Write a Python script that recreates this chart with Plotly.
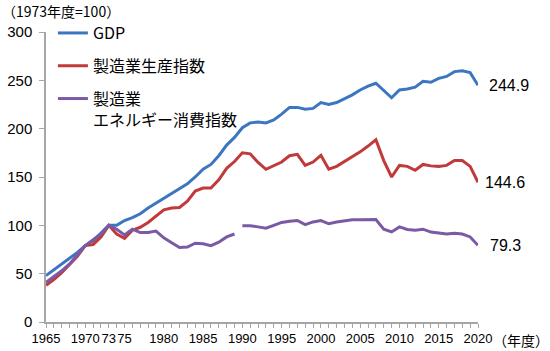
import plotly.graph_objects as go

# ---------------- data ----------------
years = list(range(1965, 2021))

gdp = [48, 54, 60, 66, 72, 79, 84, 92, 100, 100,
       105, 108, 112, 118, 123, 128, 133, 138, 143, 150,
       158, 163, 172, 183, 191, 201, 206, 207, 206, 209,
       215, 222, 222, 220, 221, 227, 225, 227, 231, 235,
       240, 244, 247, 239, 232, 240, 241, 243, 249, 248,
       252, 254, 259, 260, 258, 244.9]

manuf_production = [38, 44, 51, 59, 68, 79, 80, 88, 100, 91,
                    86.5, 95, 98, 103, 110, 116, 118, 118.5, 125, 135.5,
                    138.5, 138.5, 147, 159, 166, 175, 174, 165, 158, 162,
                    165.5, 172, 173.5, 162, 165.5, 172.5, 158, 161, 166, 171,
                    176, 182, 188.5, 167, 150, 162, 161, 157, 163, 161.5,
                    161, 162, 167, 167, 161, 144.6]

manuf_energy = [41, 47, 53, 60, 69, 79, 85, 91, 100, 96,
                90, 96, 92.5, 92.5, 94, 87, 82, 77, 77.5, 81.5,
                81, 79, 82.5, 88, 91, 99.5, 99.5, 98.4, 97, 100,
                103, 104.3, 105, 100.7, 103.5, 105, 101.6, 103.5, 104.3, 105.7,
                105.7, 106, 106, 96, 93.2, 98.4, 95.7, 95, 96, 93,
                92, 91, 91.7, 91, 88, 79.3]

energy_break_year = 1990  # series discontinuity between 1989 and 1990

series_names = ["GDP", "製造業生産指数", "製造業<br>エネルギー消費指数"]
series_colors = ["#3C76C0", "#C13A3B", "#7A5AA5"]

tick_label_years = [1965, 1970, 1973, 1975, 1980, 1985, 1990, 1995,
                    2000, 2005, 2010, 2015, 2020]
tick_label_texts = ["1965", "1970", "73", "75", "1980", "1985", "1990", "1995",
                    "2000", "2005", "2010", "2015", "2020"]

y_unit_label = "（1973年度=100）"
x_unit_label = "（年度）"

# ---------------- figure ----------------
FONT = "Liberation Sans, Noto Sans CJK JP, sans-serif"
JFONT = "Noto Sans CJK JP, sans-serif"

PW, PH = 432, 290  # plot area size in px

fig = go.Figure()

fig.add_trace(go.Scatter(x=years, y=gdp, mode="lines", name=series_names[0],
                         legendgroup="g1",
                         line=dict(color=series_colors[0], width=3)))
fig.add_trace(go.Scatter(x=years, y=manuf_production, mode="lines", name=series_names[1],
                         legendgroup="g2",
                         line=dict(color=series_colors[1], width=3)))

split = years.index(energy_break_year)
fig.add_trace(go.Scatter(x=years[:split], y=manuf_energy[:split], mode="lines",
                         name=series_names[2], legendgroup="g3",
                         line=dict(color=series_colors[2], width=3)))
fig.add_trace(go.Scatter(x=years[split:], y=manuf_energy[split:], mode="lines",
                         name=series_names[2], legendgroup="g3", showlegend=False,
                         line=dict(color=series_colors[2], width=3)))

# end-value labels
for vals, shift in ((gdp, 9), (manuf_production, 5), (manuf_energy, 10)):
    fig.add_annotation(x=years[-1], y=vals[-1], text=f"{vals[-1]}",
                       xanchor="left", yanchor="middle", xshift=shift,
                       showarrow=False, font=dict(family=FONT, size=16, color="black"))

fig.add_annotation(xref="paper", yref="paper", x=-46/PW, y=1 + 21/PH,
                   xanchor="left", yanchor="middle", text=y_unit_label,
                   showarrow=False, font=dict(family=JFONT, size=14, color="black"))
fig.add_annotation(xref="paper", yref="paper", x=(491-46)/PW, y=-18/PH,
                   xanchor="left", yanchor="middle", text=x_unit_label,
                   showarrow=False, font=dict(family=JFONT, size=14, color="black"))

tick_text = [tick_label_texts[tick_label_years.index(y)] if y in tick_label_years else ""
             for y in years]

fig.update_layout(
    width=550, height=351, autosize=False,
    margin=dict(l=46, r=72, t=32, b=29),
    paper_bgcolor="white", plot_bgcolor="white",
    font=dict(family=FONT, color="black"),
    showlegend=True,
    legend=dict(x=0.016, y=1.055, xanchor="left", yanchor="top",
                bgcolor="rgba(0,0,0,0)", font=dict(family=JFONT, size=16, color="black"),
                tracegroupgap=9, valign="top"),
    xaxis=dict(range=[1965, 2020], tickmode="array", tickvals=years, ticktext=tick_text,
               tickangle=0, automargin=False,
               ticks="outside", ticklen=4, tickcolor="#a6a6a6", tickwidth=1,
               showline=True, linecolor="#a6a6a6", linewidth=1.5,
               showgrid=False, zeroline=False,
               tickfont=dict(family=FONT, size=13, color="black")),
    yaxis=dict(range=[0, 300], tickmode="linear", tick0=0, dtick=50,
               automargin=False,
               ticks="outside", ticklen=5, tickcolor="#a6a6a6", tickwidth=1,
               showline=True, linecolor="#a6a6a6", linewidth=1.5,
               showgrid=False, zeroline=False, ticklabelstandoff=4,
               tickfont=dict(family=FONT, size=15, color="black")),
)

fig.write_html("out.html")
